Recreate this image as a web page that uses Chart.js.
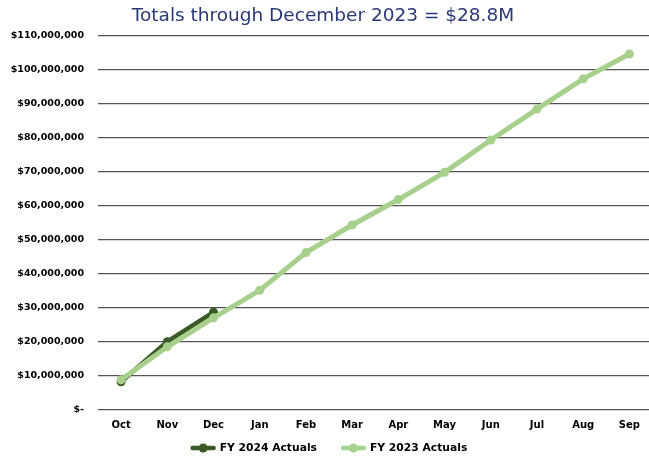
<!DOCTYPE html>
<html>
<head>
<meta charset="utf-8">
<script src="https://cdn.jsdelivr.net/npm/chart.js@4"></script>
<style>
html,body{margin:0;padding:0;background:#fff;overflow:hidden;}
#wrap{width:657px;height:459px;position:relative;}
</style>
</head>
<body>
<div id="wrap"><canvas id="c" width="657" height="459"></canvas></div>
<script>
const categories = ['Oct','Nov','Dec','Jan','Feb','Mar','Apr','May','Jun','Jul','Aug','Sep'];
const fy2024 = [8300000, 20100000, 28800000];
const fy2023 = [8900000, 18600000, 27100000, 35200000, 46300000, 54400000, 61900000, 69900000, 79400000, 88500000, 97400000, 104700000];
const yTicks = [0,10000000,20000000,30000000,40000000,50000000,60000000,70000000,80000000,90000000,100000000,110000000];
const titleText = 'Totals through December 2023 = $28.8M';

const FONT = '"DejaVu Sans", sans-serif';
const DARK = '#3b5a26';
const LIGHT = '#a8d08d';

const titlePlugin = {
  id: 'centerTitle',
  afterDraw(chart) {
    const g = chart.ctx;
    g.save();
    g.font = '500 18.5px ' + FONT;
    g.fillStyle = '#2b3877';
    g.textAlign = 'center';
    g.textBaseline = 'middle';
    g.fillText(titleText, 323, 16);
    g.restore();
  }
};

const legendPlugin = {
  id: 'customLegend',
  afterDraw(chart) {
    const g = chart.ctx;
    const ds = chart.data.datasets;
    g.save();
    g.font = 'bold 10.75px ' + FONT;
    g.textBaseline = 'middle';
    g.textAlign = 'left';
    const markW = 25, gapText = 4, gapItem = 24, y = 448;
    const widths = ds.map(d => markW + gapText + g.measureText(d.label).width);
    const total = widths.reduce((a, b) => a + b, 0) + gapItem * (ds.length - 1);
    let x = 329 - total / 2;
    ds.forEach((d, i) => {
      g.strokeStyle = d.borderColor; g.lineWidth = 4.5; g.lineCap = 'round';
      g.beginPath(); g.moveTo(x + 2, y); g.lineTo(x + markW - 2, y); g.stroke();
      g.fillStyle = d.borderColor;
      g.beginPath(); g.arc(x + markW / 2, y, 4.5, 0, Math.PI * 2); g.fill();
      g.fillStyle = '#000';
      g.fillText(d.label, x + markW + gapText, y);
      x += widths[i] + gapItem;
    });
    g.restore();
  }
};

new Chart(document.getElementById('c'), {
  type: 'line',
  data: {
    labels: categories,
    datasets: [
      {label:'FY 2024 Actuals', data: fy2024, borderColor: DARK, backgroundColor: DARK,
       borderWidth: 4.5, pointRadius: 4.5, pointHoverRadius: 4.5, pointBackgroundColor: DARK,
       pointBorderWidth: 0, order: 1, pointStyle: 'circle'},
      {label:'FY 2023 Actuals', data: fy2023, borderColor: LIGHT, backgroundColor: LIGHT,
       borderWidth: 5, pointRadius: 4.5, pointHoverRadius: 4.5, pointBackgroundColor: LIGHT,
       pointBorderWidth: 0, order: 0, pointStyle: 'circle'}
    ]
  },
  plugins: [titlePlugin, legendPlugin],
  options: {
    responsive: false,
    animation: false,
    layout: {padding: {left: 0, right: 0, top: 36, bottom: 19}},
    elements: {line: {tension: 0}},
    scales: {
      x: {
        offset: true,
        grid: {display: false, drawTicks: false},
        border: {display: false},
        ticks: {color: '#000', font: {family: FONT, size: 10, weight: 'bold'}, padding: 9}
      },
      y: {
        min: 0, max: 110000000,
        afterBuildTicks: s => { s.ticks = yTicks.map(v => ({value: v})); },
        afterFit: s => { s.width = 98; },
        grid: {color: '#555', lineWidth: 1.3, drawTicks: false},
        border: {display: false},
        ticks: {
          color: '#000', padding: 14,
          font: {family: FONT, size: 9.5, weight: 'bold'},
          callback: v => v === 0 ? '$-' : '$' + v.toLocaleString('en-US')
        }
      }
    },
    plugins: {
      title: {display: false},
      legend: {display: false},
      tooltip: {enabled: false}
    }
  }
});
</script>
</body>
</html>
